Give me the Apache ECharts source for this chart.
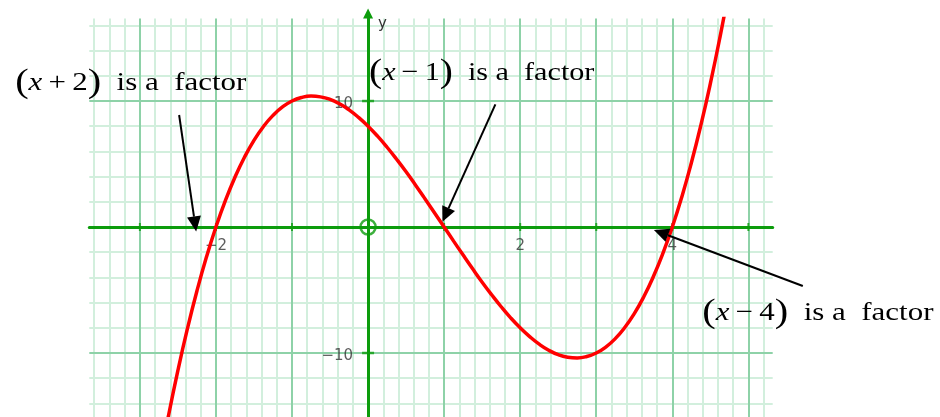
<!DOCTYPE html>
<html>
<head>
<meta charset="utf-8">
<script src="https://cdn.jsdelivr.net/npm/echarts@6/dist/echarts.min.js"></script>
<style>
  html, body { margin: 0; padding: 0; background: #fff; }
  #chart { width: 940px; height: 417px; }
</style>
</head>
<body>
<div id="chart"></div>
<script>
// the red curve
var curveX = [-2.75, -2.625, -2.5, -2.375, -2.25, -2.125, -2, -1.875, -1.75, -1.625, -1.5, -1.375,
  -1.25, -1.125, -1, -0.875, -0.75, -0.625, -0.5, -0.375, -0.25, -0.125, 0, 0.125, 0.25, 0.375,
  0.5, 0.625, 0.75, 0.875, 1, 1.125, 1.25, 1.375, 1.5, 1.625, 1.75, 1.875, 2, 2.125, 2.25, 2.375,
  2.5, 2.625, 2.75, 2.875, 3, 3.125, 3.25, 3.375, 3.5, 3.625, 3.75, 3.875, 4, 4.125, 4.25, 4.375,
  4.5, 4.625, 4.75];
var curveY = [-18.98, -15.01, -11.38, -8.07, -5.08, -2.39, 0, 2.11, 3.95, 5.54, 6.88, 7.98,
  8.86, 9.53, 10, 10.28, 10.39, 10.33, 10.13, 9.78, 9.3, 8.7, 8, 7.21, 6.33, 5.38,
  4.38, 3.32, 2.23, 1.12, 0, -1.12, -2.23, -3.32, -4.38, -5.38, -6.33, -7.21, -8, -8.7, -9.3, -9.78,
  -10.13, -10.33, -10.39, -10.28, -10, -9.53, -8.86, -7.98, -6.88, -5.54, -3.95, -2.11, 0, 2.39, 5.08, 8.07,
  11.38, 15.01, 18.98];

// ticks and labels on the axes
var xTickValues = [-3, -2, -1, 1, 2, 3, 4, 5];
var yTickValues = [-10, 10];
var xLabelValues = [-2, 2, 4];
var yLabelValues = [-10, 10];

// notes: the bit inside the brackets, where the text baseline starts, arrow from / to (data units)
var noteInner = ['\u2009+\u20092', '\u2009\u2212\u20091', '\u2009\u2212\u20094'];
var noteAt = [[-4.64, 10.74], [0.013, 11.48], [4.394, -7.52]];
var arrowFrom = [[-2.484, 8.89], [1.674, 9.74], [5.716, -4.68]];
var arrowTo = [[-2.26, -0.35], [0.978, 0.42], [3.758, -0.24]];

var green = '#0c9c0c';
var minorColor = '#d2efdd';
var majorColor = '#8ed2a8';
var numFont = 'DejaVu Sans';

// graph paper lines
var gridLines = [];
var i, v;
for (i = -18; i <= 26; i++) {          // every 0.2 on x
  v = +(i * 0.2).toFixed(1);
  if (i % 5 !== 0) gridLines.push({ xAxis: v, lineStyle: { color: minorColor, width: 2, type: 'solid' } });
}
for (i = -7; i <= 8; i++) {            // every 2 on y
  v = i * 2;
  if (v % 10 !== 0) gridLines.push({ yAxis: v, lineStyle: { color: minorColor, width: 2, type: 'solid' } });
}
for (v = -3; v <= 5; v++) {
  if (v !== 0) gridLines.push({ xAxis: v, lineStyle: { color: majorColor, width: 2, type: 'solid' } });
}
[-10, 10].forEach(function (y) { gridLines.push({ yAxis: y, lineStyle: { color: majorColor, width: 2, type: 'solid' } }); });

var minus = function (val) { return String(val).replace('-', '\u2212'); };

var chart = echarts.init(document.getElementById('chart'));

var option = {
  animation: false,
  grid: { left: 89.3, right: 167.3, top: 18.5, bottom: 0, containLabel: false, outerBoundsMode: 'none' },
  xAxis: {
    type: 'value',
    min: -3.665,
    max: 5.32,
    z: 3,
    axisLine: { onZero: true, lineStyle: { color: green, width: 3 } },
    axisTick: { show: false },
    splitLine: { show: false },
    axisLabel: { show: false }
  },
  yAxis: {
    type: 'value',
    min: -15.08,
    max: 16.55,
    z: 3,
    name: 'y',
    nameLocation: 'end',
    nameGap: -13,
    nameTextStyle: { align: 'left', padding: [0, 0, 0, 10], color: '#333', fontSize: 15, fontFamily: numFont },
    axisLine: {
      onZero: true,
      symbol: ['none', 'triangle'],
      symbolSize: [10, 10],
      symbolOffset: [0, 5],
      lineStyle: { color: green, width: 3 }
    },
    axisTick: { show: false },
    splitLine: { show: false },
    axisLabel: { show: false }
  },
  series: [
    {
      name: 'paper',
      type: 'line',
      data: [],
      z: 1,
      silent: true,
      markLine: {
        z: 1,
        silent: true, symbol: 'none', animation: false,
        label: { show: false },
        lineStyle: { type: 'solid' },
        data: gridLines
      }
    },
    {
      name: 'xticks',
      type: 'scatter',
      z: 4,
      silent: true,
      symbol: 'rect',
      symbolSize: [2, 8],
      itemStyle: { color: green },
      data: xTickValues.map(function (x) { return [x, 0]; })
    },
    {
      name: 'yticks',
      type: 'scatter',
      z: 4,
      silent: true,
      symbol: 'rect',
      symbolSize: [12, 2.5],
      itemStyle: { color: green },
      data: yTickValues.map(function (y) { return [0, y]; })
    },
    {
      name: 'xlabels',
      type: 'scatter',
      z: 4,
      silent: true,
      symbolSize: 0,
      data: xLabelValues.map(function (x) { return [x, 0]; }),
      label: {
        show: true, position: 'bottom', distance: 12,
        color: '#333', fontSize: 15, fontFamily: numFont,
        formatter: function (p) { return minus(p.value[0]); }
      }
    },
    {
      name: 'ylabels',
      type: 'scatter',
      z: 4,
      silent: true,
      symbolSize: 0,
      data: yLabelValues.map(function (y) { return [0, y]; }),
      label: {
        show: true, position: 'left', distance: 15, offset: [0, 3],
        color: '#333', fontSize: 15, fontFamily: numFont,
        formatter: function (p) { return minus(p.value[1]); }
      }
    },
    {
      name: 'origin',
      type: 'scatter',
      z: 4,
      silent: true,
      symbol: 'circle',
      symbolSize: 15,
      itemStyle: { color: 'rgba(0,0,0,0)', borderColor: green, borderWidth: 2.5 },
      data: [[0, 0]]
    },
    {
      name: 'curve',
      type: 'line',
      z: 5,
      smooth: 0.5,
      showSymbol: false,
      clip: true,
      lineStyle: { color: '#ff0000', width: 3.5 },
      data: curveX.map(function (x, k) { return [x, curveY[k]]; })
    }
  ]
};

chart.setOption(option);

// notes and arrows, placed through the axes' scales
var toPx = function (p) { return chart.convertToPixel({ gridIndex: 0 }, p); };
var serif = "'Liberation Serif', 'Times New Roman', serif";
var rich = {
  p: { fontSize: 34, fontFamily: serif, lineHeight: 40 },
  i: { fontSize: 26, fontStyle: 'italic', fontFamily: serif, lineHeight: 40 },
  n: { fontSize: 26, fontFamily: serif, lineHeight: 40 }
};
var graphics = [];
for (i = 0; i < noteAt.length; i++) {
  var t = toPx(noteAt[i]);
  graphics.push({
    type: 'text',
    x: t[0],
    y: t[1] - 9,
    scaleX: i === 1 ? 1.16 : 1.19,
    z: 10,
    silent: true,
    style: {
      text: '{p|(}{i|x}{n|' + noteInner[i] + '}{p|)}{n|  is a  factor}',
      rich: rich,
      fill: '#000',
      align: 'left',
      verticalAlign: 'middle'
    }
  });

  var a = toPx(arrowFrom[i]), b = toPx(arrowTo[i]);
  var dx = b[0] - a[0], dy = b[1] - a[1];
  var len = Math.sqrt(dx * dx + dy * dy);
  var ux = dx / len, uy = dy / len;
  var hl = 15, hw = 7;
  var bx = b[0] - ux * hl, by = b[1] - uy * hl;
  graphics.push({
    type: 'line', z: 10, silent: true,
    shape: { x1: a[0], y1: a[1], x2: bx, y2: by },
    style: { stroke: '#000', lineWidth: 2 }
  });
  graphics.push({
    type: 'polygon', z: 10, silent: true,
    shape: { points: [[b[0], b[1]], [bx - uy * hw, by + ux * hw], [bx + uy * hw, by - ux * hw]] },
    style: { fill: '#000' }
  });
}
chart.setOption({ graphic: graphics });
</script>
</body>
</html>
